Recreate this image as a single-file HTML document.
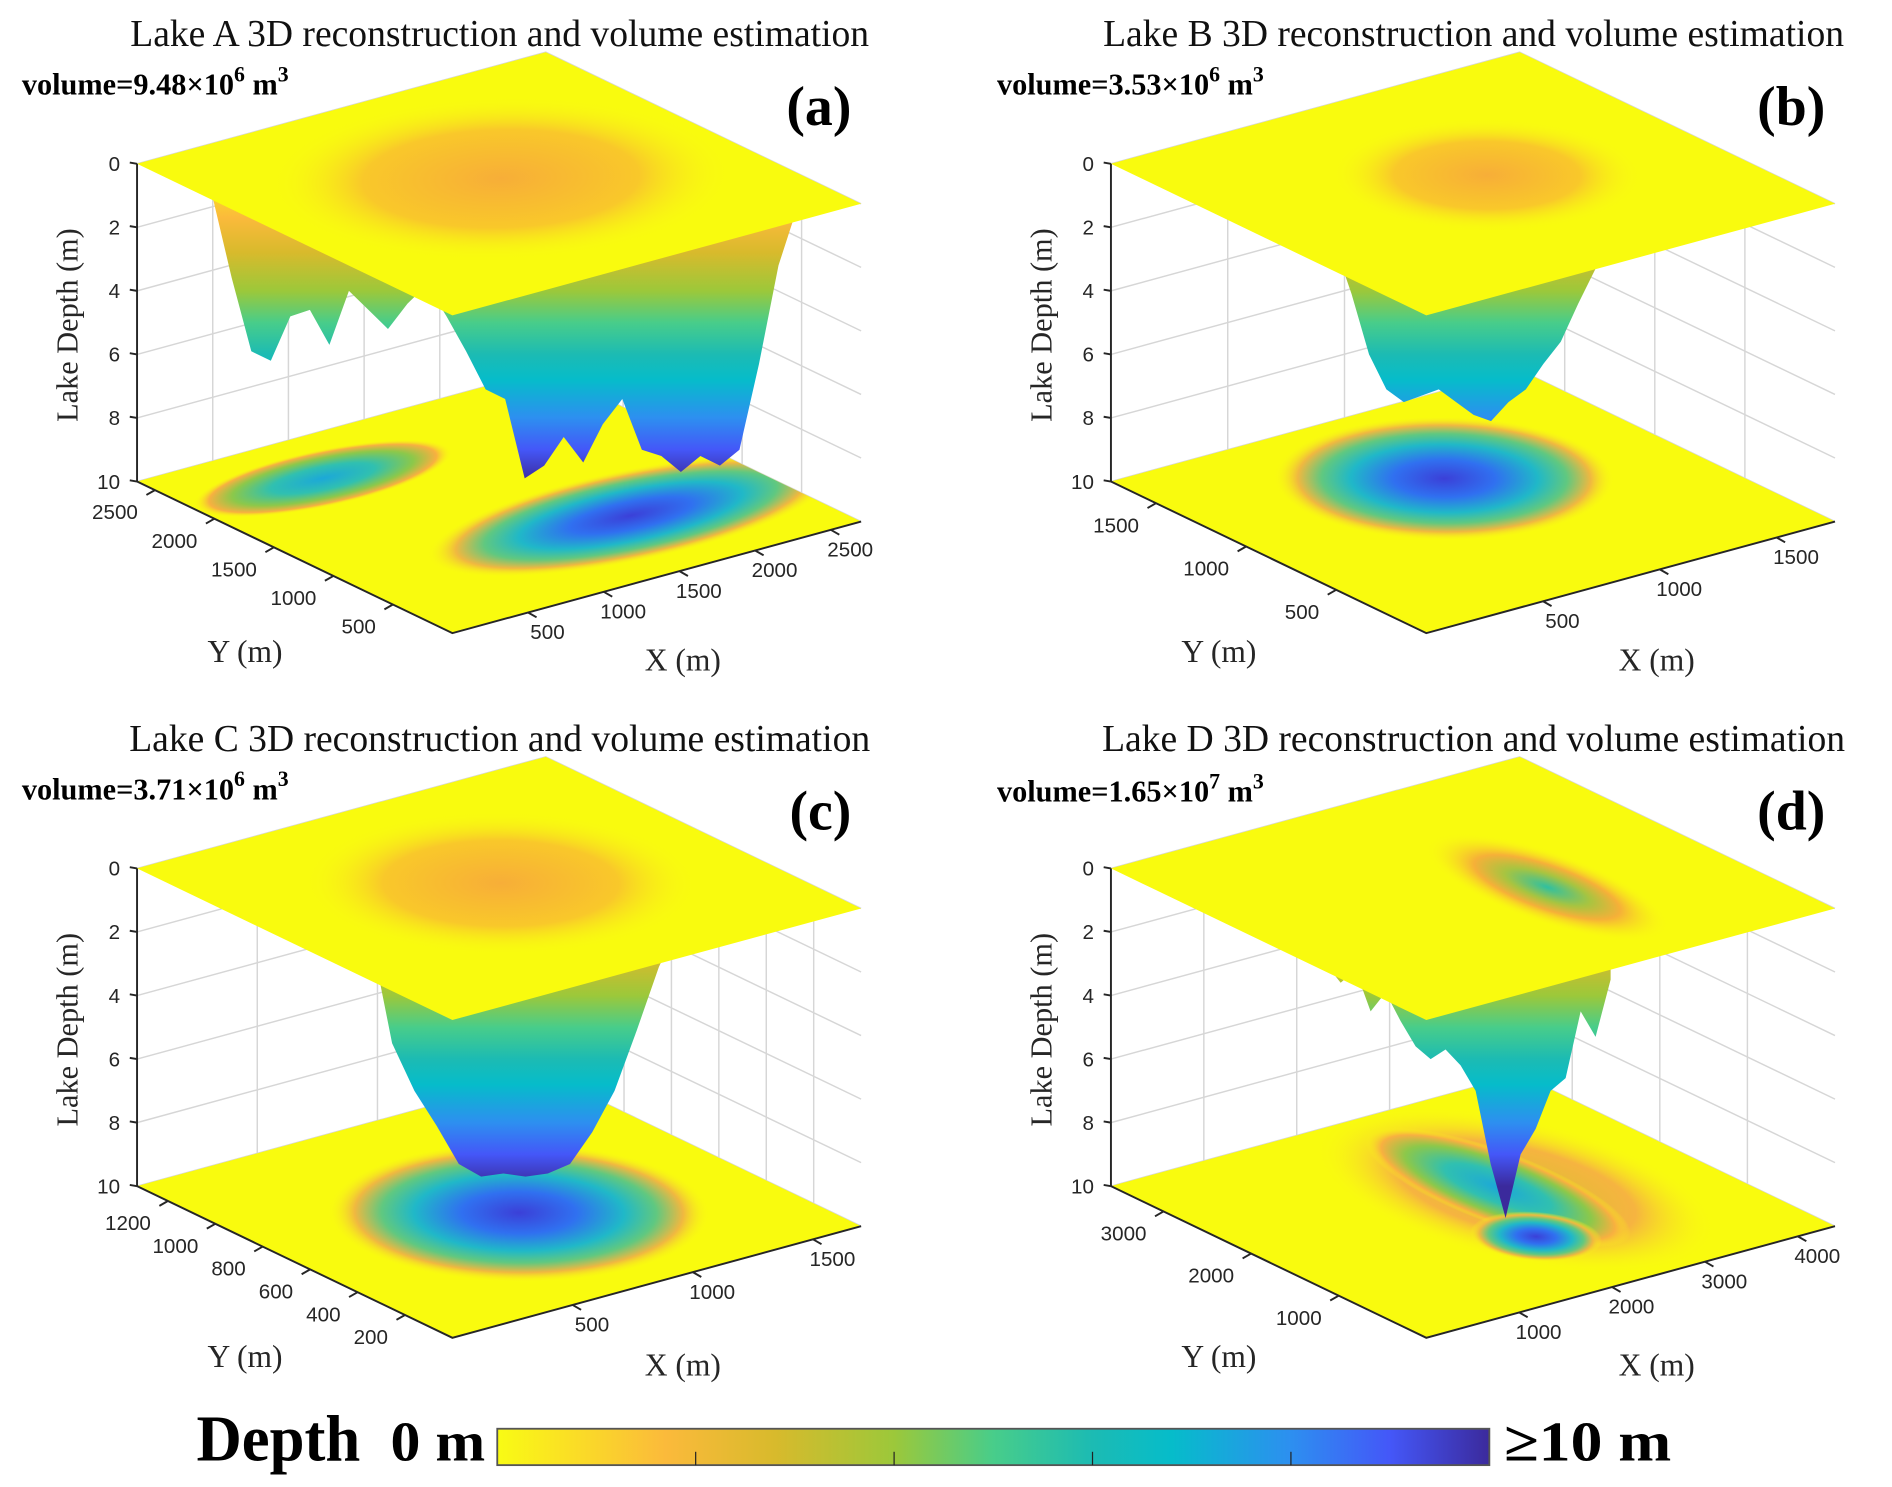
<!DOCTYPE html>
<html><head><meta charset="utf-8">
<style>
html,body{margin:0;padding:0;background:#fff;}
svg{display:block;}
text{font-family:"Liberation Serif",serif;}
.tk{font-family:"Liberation Sans",sans-serif;font-size:17px;fill:#262626;}
</style></head>
<body>
<svg id="fig" width="1892" height="1487" viewBox="0 0 1560 1226" xmlns="http://www.w3.org/2000/svg">
<defs id="gdefs"></defs>
</svg>
<script>
var panelNames = ['a','b','c','d'];
var lakeLetters = ['A','B','C','D'];
var volMantissa = ['9.48','3.53','3.71','1.65'];
var volExponent = ['6','6','6','7'];
var zTicks = [0,2,4,6,8,10];
var xTicksA = [500,1000,1500,2000,2500];
var yTicksA = [500,1000,1500,2000,2500];
var xTicksB = [500,1000,1500];
var yTicksB = [500,1000,1500];
var xTicksC = [500,1000,1500];
var yTicksC = [200,400,600,800,1000,1200];
var xTicksD = [1000,2000,3000,4000];
var yTicksD = [1000,2000,3000];
var xMaxes = [2700,1750,1700,4400];
var yMaxes = [2650,1750,1330,3600];
var depthA = [1.0,3.6,5.9,6.2,4.8,4.6,5.7,4.0,4.6,5.2,4.4,3.8,4.8,5.9,7.1,7.4,9.9,9.5,8.6,9.4,8.2,7.4,9.0,9.2,9.7,9.2,9.5,9.0,6.3,3.2,1.3];
var depthB = [2.5,4.1,6.0,7.1,7.5,7.3,7.1,7.5,7.9,8.1,7.5,7.1,6.3,5.6,4.4,3.3,2.2];
var depthC = [2.0,5.5,7.0,8.1,9.3,9.7,9.6,9.7,9.6,9.3,8.3,7.0,5.1,3.1,1.6,0.4];
var depthD = [3.0,3.6,3.2,4.5,3.9,4.8,5.6,6.0,5.7,6.2,7.0,9.3,11.0,9.0,8.2,7.0,6.6,4.5,5.3,3.5];
var spans = [[175,658],[297,527],[305,580],[290,525]];

var SVGNS='http://www.w3.org/2000/svg';
var fig=document.getElementById('fig');
var gdefs=document.getElementById('gdefs');
var L0={x:113,y:135},F0={x:373,y:260},R0={x:710,y:168},B0={x:450,y:43};
var ZH=262;
var offsets=[[0,0],[803,0],[0,581],[803,581]];
var parula=[[0,'#f9fb14'],[0.17,'#fbba3b'],[0.28,'#d8ba2c'],[0.4,'#9cc83a'],[0.5,'#48cd8a'],[0.6,'#1cbbb3'],[0.68,'#06bcca'],[0.8,'#2d8ff0'],[0.9,'#4457f8'],[1,'#3b2a9c']];
function mk(tag,attrs,parent){var e=document.createElementNS(SVGNS,tag);for(var k in attrs){e.setAttribute(k,String(attrs[k]));}(parent||fig).appendChild(e);return e;}
function lerp(a,b,t){return {x:a.x+(b.x-a.x)*t,y:a.y+(b.y-a.y)*t};}
function pts(a){return a.map(function(p){return p.x.toFixed(1)+','+p.y.toFixed(1);}).join(' ');}
function gradLinear(id,x1,y1,x2,y2,stops){var g=mk('linearGradient',{id:id,gradientUnits:'userSpaceOnUse',x1:x1,y1:y1,x2:x2,y2:y2},gdefs);stops.forEach(function(s){mk('stop',{offset:s[0],'stop-color':s[1]},g);});}
function gradRadial(id,stops){var g=mk('radialGradient',{id:id},gdefs);stops.forEach(function(s){mk('stop',{offset:s[0],'stop-color':s[1],'stop-opacity':(s.length>2?s[2]:1)},g);});}
gradRadial('basin',[[0,'#f7ae38'],[0.6,'#f9c82a'],[1,'#f9fb14',0]]);
gradRadial('basinD',[[0,'#30c0a0'],[0.35,'#a8c440'],[0.6,'#f6b038'],[1,'#f9fb14',0]]);
gradRadial('blobDeep',[[0,'#3b40d8'],[0.3,'#3070f0'],[0.55,'#20b8c8'],[0.72,'#60c880'],[0.86,'#f0b840'],[1,'#f9fb14',0]]);
gradRadial('blobMid',[[0,'#1ca8d8'],[0.4,'#30c0b0'],[0.7,'#8cc84a'],[0.88,'#f8b040'],[1,'#f9fb14',0]]);
gradRadial('blobShallow',[[0,'#d8c030'],[0.6,'#f6b440'],[1,'#f9fb14',0]]);
var xTickSets=[xTicksA,xTicksB,xTicksC,xTicksD];
var yTickSets=[yTicksA,yTicksB,yTicksC,yTicksD];
var depthSets=[depthA,depthB,depthC,depthD];
var blobSpecs=[
 [[0.30,0.80,0.30,0.13,'blobMid'],[0.66,0.29,0.47,0.21,'blobDeep']],
 [[0.53,0.63,0.33,0.33,'blobDeep']],
 [[0.51,0.45,0.37,0.37,'blobDeep']],
 [[0.62,0.52,0.3,0.5,'blobShallow'],[0.6,0.55,0.14,0.38,'blobMid'],[0.5,0.3,0.12,0.14,'blobDeep']]
];
var basinSpecs=[[0.52,0.52,0.46,0.42],[0.55,0.52,0.3,0.3],[0.52,0.52,0.38,0.38],[0.62,0.42,0.14,0.34]];
var basinFill=['basin','basin','basin','basinD'];
function floorPt(L,F,R,u,v,dz){return {x:F.x+(R.x-F.x)*u+(L.x-F.x)*v, y:F.y+(R.y-F.y)*u+(L.y-F.y)*v+dz};}
function txt(parent,attrs,s){var t=mk('text',attrs,parent);t.textContent=s;return t;}

function drawPanel(i){
 var ox=offsets[i][0],oy=offsets[i][1];
 var g=mk('g',{});
 
 
 var L={x:L0.x+ox,y:L0.y+oy},F={x:F0.x+ox,y:F0.y+oy},R={x:R0.x+ox,y:R0.y+oy},B={x:B0.x+ox,y:B0.y+oy};
 function dz(z){return z/10*ZH;}
 var xm=xMaxes[i],ym=yMaxes[i];
 var grid=mk('g',{stroke:'#d6d6d6','stroke-width':1.2,fill:'none'},g);
 
 
 zTicks.forEach(function(z){mk('polyline',{points:pts([{x:L.x,y:L.y+dz(z)},{x:B.x,y:B.y+dz(z)},{x:R.x,y:R.y+dz(z)}])},grid);});
 xTickSets[i].forEach(function(v){var p=lerp(L,B,v/xm);mk('line',{x1:p.x,y1:p.y,x2:p.x,y2:p.y+ZH},grid);});
 yTickSets[i].forEach(function(v){var p=lerp(B,R,1-v/ym);mk('line',{x1:p.x,y1:p.y,x2:p.x,y2:p.y+ZH},grid);});
 var floorPts=pts([{x:L.x,y:L.y+ZH},{x:B.x,y:B.y+ZH},{x:R.x,y:R.y+ZH},{x:F.x,y:F.y+ZH}]);
 var floor=mk('polygon',{points:floorPts,fill:'#f9fb0e'},g);
 
 
 var cpF=mk('clipPath',{id:'fc'+i},gdefs);mk('polygon',{points:floorPts},cpF);
 var blobs=mk('g',{'clip-path':'url(#fc'+i+')'},g);
 
 
 blobSpecs[i].forEach(function(b){
  var c=floorPt(L,F,R,b[0],b[1],ZH);
  var m=[(R.x-F.x)*b[2],(R.y-F.y)*b[2],(L.x-F.x)*b[3],(L.y-F.y)*b[3],c.x,c.y].map(function(n){return n.toFixed(2);}).join(',');
  var e=mk('ellipse',{cx:0,cy:0,rx:1,ry:1,fill:'url(#'+b[4]+')',transform:'matrix('+m+')'},blobs);
  
  
 });
 gradLinear('cg'+i,0,L.y,0,L.y+ZH,parula);
 var dep=depthSets[i],sp=spans[i],n=dep.length;
 var bottom=dep.map(function(z,k){return {x:ox+sp[0]+(sp[1]-sp[0])*k/(n-1),y:L.y+dz(z)};});
 bottom.push({x:ox+sp[1],y:L.y+dz(0.3)});
 bottom.push({x:ox+sp[0],y:L.y+dz(0.3)});
 var cur=mk('polygon',{points:pts(bottom),fill:'url(#cg'+i+')'},g);
 
 
 var topPts=pts([L,B,R,F]);
 var plane=mk('polygon',{points:topPts,fill:'#f9fb0e'},g);
 
 
 var cpT=mk('clipPath',{id:'tc'+i},gdefs);mk('polygon',{points:topPts},cpT);
 var bs=basinSpecs[i];
 var bc=floorPt(L,F,R,bs[0],bs[1],0);
 var bm=[(R.x-F.x)*bs[2],(R.y-F.y)*bs[2],(L.x-F.x)*bs[3],(L.y-F.y)*bs[3],bc.x,bc.y].map(function(n){return n.toFixed(2);}).join(',');
 var bg=mk('g',{'clip-path':'url(#tc'+i+')'},g);
 var bas=mk('ellipse',{cx:0,cy:0,rx:1,ry:1,fill:'url(#'+basinFill[i]+')',transform:'matrix('+bm+')'},bg);
 
 
 var ax=mk('g',{stroke:'#262626','stroke-width':1.6,fill:'none'},g);
 
 
 mk('line',{x1:L.x,y1:L.y,x2:L.x,y2:L.y+ZH},ax);
 mk('polyline',{points:pts([{x:L.x,y:L.y+ZH},{x:F.x,y:F.y+ZH},{x:R.x,y:R.y+ZH}])},ax);
 zTicks.forEach(function(z){
  var y=L.y+dz(z);
  mk('line',{x1:L.x-6,y1:y-1,x2:L.x,y2:y},ax);
  var t=txt(g,{x:L.x-14,y:y+6,'text-anchor':'end','class':'tk'},String(z));
  
  
 });
 xTickSets[i].forEach(function(v){
  var p=lerp({x:F.x,y:F.y+ZH},{x:R.x,y:R.y+ZH},v/xm);
  mk('line',{x1:p.x,y1:p.y,x2:p.x+7,y2:p.y+4},ax);
  var t=txt(g,{x:p.x+16,y:p.y+22,'text-anchor':'middle','class':'tk'},String(v));
  
  
 });
 yTickSets[i].forEach(function(v){
  var p=lerp({x:F.x,y:F.y+ZH},{x:L.x,y:L.y+ZH},v/ym);
  mk('line',{x1:p.x,y1:p.y,x2:p.x-7,y2:p.y+4},ax);
  var t=txt(g,{x:p.x-14,y:p.y+24,'text-anchor':'end','class':'tk'},String(v));
  
  
 });
 var zl=txt(g,{x:0,y:0,'font-size':25,fill:'#262626','text-anchor':'middle',transform:'translate('+(ox+64)+','+(oy+268)+') rotate(-90)'},'Lake Depth (m)');
 
 
 var yl=txt(g,{x:ox+202,y:oy+546,'font-size':26,fill:'#262626','text-anchor':'middle'},'Y (m)');
 
 
 var xl=txt(g,{x:ox+563,y:oy+553,'font-size':26,fill:'#262626','text-anchor':'middle'},'X (m)');
 
 
 var ti=txt(g,{x:ox+412,y:oy+38,'font-size':31,fill:'#111','text-anchor':'middle'},'Lake '+lakeLetters[i]+' 3D reconstruction and volume estimation');
 
 
 var vy=oy+(i===3?80:78);
 var vt=mk('text',{x:ox+18+(i%2?1:0),y:vy,'font-size':25,'font-weight':'bold',fill:'#000'},g);
 
 
 var parts=[['volume='+volMantissa[i]+'×10',0,25],[volExponent[i],-11,18],[' m',11,25],['3',-11,18]];
 parts.forEach(function(p){var ts=mk('tspan',{dy:p[1],'font-size':p[2]},vt);ts.textContent=p[0];});
 var pl=txt(g,{x:ox+702,y:oy+103,'font-size':46,'font-weight':'bold',fill:'#000','text-anchor':'end'},'('+panelNames[i]+')');
 
 
}
for(var pi=0;pi<4;pi++){try{drawPanel(pi);}catch(err){console.log(err);}}

try{
gradLinear('cbg',410,0,1228,0,parula);
var cb=mk('g',{});


mk('rect',{x:410,y:1178,width:818,height:30,fill:'url(#cbg)',stroke:'#555','stroke-width':1.5},cb);
var cbTicks=[0.2,0.4,0.6,0.8];
cbTicks.forEach(function(t){var x=410+818*t;mk('line',{x1:x,y1:1197,x2:x,y2:1208,stroke:'#222','stroke-width':1},cb);});
var t1=txt(cb,{x:162,y:1204,'font-size':54,'font-weight':'bold',fill:'#000',textLength:135,lengthAdjust:'spacingAndGlyphs'},'Depth');


var t2=txt(cb,{x:322,y:1204,'font-size':46,'font-weight':'bold',fill:'#000',textLength:78,lengthAdjust:'spacingAndGlyphs'},'0 m');


var t3=txt(cb,{x:1240,y:1204,'font-size':46,'font-weight':'bold',fill:'#000',textLength:138,lengthAdjust:'spacingAndGlyphs'},'≥10 m');


}catch(err){console.log(err);}
</script>
</body></html>
